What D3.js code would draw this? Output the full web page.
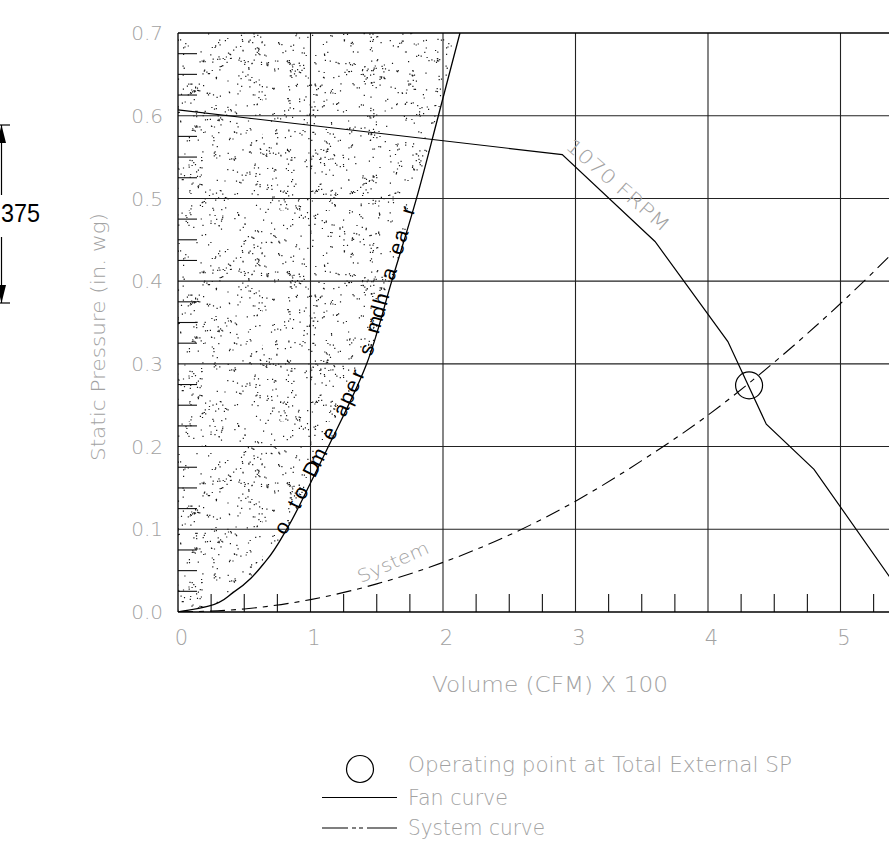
<!DOCTYPE html>
<html><head><meta charset="utf-8">
<script src="https://cdn.jsdelivr.net/npm/d3@7"></script>
<style>
html,body{margin:0;padding:0;background:#fff;}
svg{display:block;}
.lbl{font-family:"DejaVu Sans",sans-serif;font-weight:200;fill:#a2a2a2;}
</style></head>
<body>
<svg id="chart" width="889" height="865"></svg>
<script>
// ---------------- data ----------------
const xTicks = [0, 1, 2, 3, 4, 5];
const yTicks = [0.0, 0.1, 0.2, 0.3, 0.4, 0.5, 0.6, 0.7];
const yTickLabels = ["0.0","0.1","0.2","0.3","0.4","0.5","0.6","0.7"];
const xMinorTicks = [0.25,0.5,0.75,1.25,1.5,1.75,2.25,2.5,2.75,3.25,3.5,3.75,4.25,4.5,4.75,5.25,5.5,5.75];
const yMinorTicks = [0.025,0.05,0.075,0.125,0.15,0.175,0.225,0.25,0.275,0.325,0.35,0.375,0.425,0.45,0.475,0.525,0.55,0.575,0.625,0.65,0.675];

// Fan curve (1070 FRPM)
const fanX = [0, 2.9, 3.6, 4.15, 4.44, 4.8, 5.5];
const fanY = [0.607, 0.553, 0.448, 0.327, 0.227, 0.1725, 0.013];

// System curve
const sysX = [0, 0.5, 1, 1.5, 2, 2.5, 3, 3.5, 4, 4.5, 5, 5.5];
const sysY = [0, 0.0037, 0.015, 0.034, 0.06, 0.093, 0.134, 0.183, 0.238, 0.302, 0.373, 0.451];

// Boundary of the shaded (stippled) region
const bndX = [0, 0.23, 0.42, 0.67, 0.82, 1.0, 1.135, 1.424, 1.613, 1.8, 1.965, 2.128];
const bndY = [0, 0.007, 0.024, 0.063, 0.1, 0.156, 0.2, 0.3, 0.4, 0.5, 0.6, 0.7];

// Operating point
const opX = [4.31];
const opY = [0.274];

const curveLabel = "o to Dm e aper s mdh a ea r";
const fanLabel = "1070 FRPM";
const sysLabel = "System";
const xTitle = "Volume (CFM) X 100";
const yTitle = "Static Pressure (in. wg)";
const legendItems = ["Operating point at Total External SP", "Fan curve", "System curve"];
const dimText = "375";

// ---------------- drawing ----------------
const svg = d3.select("#chart");
const x = d3.scaleLinear().domain([0, 5]).range([178, 840.5]);
const y = d3.scaleLinear().domain([0, 0.7]).range([612, 33]);
const W = 889;

// stipple pattern (decorative texture)
const defs = svg.append("defs");
const PW = 263, PH = 211;
const pat = defs.append("pattern").attr("id","stip").attr("patternUnits","userSpaceOnUse")
  .attr("width",PW).attr("height",PH);
let s = 424242;
const rnd = () => { s = (s * 16807) % 2147483647; return s / 2147483647; };
let dots = "";
for (let i = 0; i < 720; i++) {
  const cx = rnd()*PW, cy = rnd()*PH;
  const n = 1 + Math.floor(rnd()*2.4);
  for (let k = 0; k < n; k++) {
    const dx = ((cx + (rnd()-0.5)*6) % PW + PW) % PW;
    const dy = ((cy + (rnd()-0.5)*4) % PH + PH) % PH;
    dots += `M${dx.toFixed(1)},${dy.toFixed(1)}h1.2v1.2h-1.2z`;
  }
}
pat.append("path").attr("d",dots).attr("fill","#1a1a1a");

const clip = defs.append("clipPath").attr("id","plotclip");
clip.append("rect").attr("x",178).attr("y",33).attr("width",W-178).attr("height",612-33);

const bnd = bndX.map((d,i)=>[d,bndY[i]]);
const bndLine = d3.line().x(d=>x(d[0])).y(d=>y(d[1])).curve(d3.curveMonotoneY);
// stippled region
svg.append("path")
  .attr("d", bndLine(bnd) + "L" + x(0) + "," + y(0.7) + "L" + x(0) + "," + y(0) + "Z")
  .attr("fill","url(#stip)").attr("stroke","none");

// grid
const g = svg.append("g").attr("clip-path","url(#plotclip)");
g.selectAll(".vg").data(xTicks.slice(1)).join("line")
  .attr("x1",d=>x(d)).attr("x2",d=>x(d)).attr("y1",y(0.7)).attr("y2",y(0))
  .attr("stroke","#222").attr("stroke-width",1.1);
g.selectAll(".hg").data(yTicks.slice(1,-1)).join("line")
  .attr("x1",x(0)).attr("x2",W).attr("y1",d=>y(d)).attr("y2",d=>y(d))
  .attr("stroke","#222").attr("stroke-width",1.1);
// minor ticks
g.selectAll(".xm").data(xMinorTicks).join("line")
  .attr("x1",d=>x(d)).attr("x2",d=>x(d)).attr("y1",y(0)).attr("y2",y(0)-18)
  .attr("stroke","#111").attr("stroke-width",1.1);
g.selectAll(".ym").data(yMinorTicks).join("line")
  .attr("x1",x(0)).attr("x2",x(0)+19).attr("y1",d=>y(d)).attr("y2",d=>y(d))
  .attr("stroke","#111").attr("stroke-width",1.1);

// frame
svg.append("line").attr("x1",x(0)).attr("x2",W).attr("y1",y(0.7)).attr("y2",y(0.7)).attr("stroke","#000").attr("stroke-width",1.3);
svg.append("line").attr("x1",x(0)).attr("x2",W).attr("y1",y(0)).attr("y2",y(0)).attr("stroke","#000").attr("stroke-width",1.3);
svg.append("line").attr("x1",x(0)).attr("x2",x(0)).attr("y1",y(0.7)).attr("y2",y(0)).attr("stroke","#000").attr("stroke-width",1.3);

// boundary curve
const bPath = g.append("path").attr("d", bndLine(bnd)).attr("fill","none").attr("stroke","#000").attr("stroke-width",1.3);

// system curve
const sysLine = d3.line().x((d,i)=>x(sysX[i])).y((d,i)=>y(sysY[i])).curve(d3.curveMonotoneX);
g.append("path").attr("d", sysLine(sysX)).attr("fill","none").attr("stroke","#000")
  .attr("stroke-width",1.1).attr("stroke-dasharray","15,6,5,6");

// fan curve
const fanLine = d3.line().x((d,i)=>x(fanX[i])).y((d,i)=>y(fanY[i]));
g.append("path").attr("d", fanLine(fanX)).attr("fill","none").attr("stroke","#000").attr("stroke-width",1.2);

// operating point
svg.selectAll(".op").data(opX).join("circle")
  .attr("cx",(d)=>x(d)).attr("cy",(d,i)=>y(opY[i])).attr("r",13.5)
  .attr("fill","none").attr("stroke","#000").attr("stroke-width",1.2);

// tick labels
svg.selectAll(".yl").data(yTicks).join("text").attr("class","lbl")
  .attr("x",163).attr("y",d=>y(d)).attr("dy","0.36em").attr("text-anchor","end")
  .attr("font-size",20).text((d,i)=>yTickLabels[i]);
svg.selectAll(".xl").data(xTicks).join("text").attr("class","lbl")
  .attr("x",d=>x(d)+3.5).attr("y",645).attr("text-anchor","middle")
  .attr("font-size",21).text(d=>d);

// axis titles
svg.append("text").attr("class","lbl").attr("x",432).attr("y",691.5).attr("font-size",21)
  .attr("textLength",236).attr("lengthAdjust","spacingAndGlyphs").text(xTitle);
svg.append("text").attr("class","lbl").attr("transform","translate(98,337) rotate(-90)")
  .attr("text-anchor","middle").attr("font-size",19).attr("dy","0.35em")
  .attr("textLength",248).attr("lengthAdjust","spacingAndGlyphs").text(yTitle);

// curve labels
svg.append("text").attr("class","lbl").attr("transform","translate(618,185) rotate(41)")
  .attr("text-anchor","middle").attr("dy","0.35em").attr("font-size",19)
  .attr("textLength",130).attr("lengthAdjust","spacingAndGlyphs").text(fanLabel);
svg.append("text").attr("class","lbl").attr("transform","translate(393,562) rotate(-24)")
  .attr("text-anchor","middle").attr("dy","0.35em").attr("font-size",18)
  .attr("textLength",76).attr("lengthAdjust","spacingAndGlyphs").text(sysLabel);

// text along boundary curve
(function(){
  const node = bPath.node();
  const L = node.getTotalLength();
  const findLen = (py) => { for (let l = 0; l <= L; l += 0.5) { if (node.getPointAtLength(l).y <= py) return l; } return L; };
  const l0 = findLen(530), l1 = findLen(212);
  const chars = curveLabel.split("");
  const step = (l1 - l0) / (chars.length - 1);
  chars.forEach((c,i) => {
    if (c === " ") return;
    const l = l0 + i*step;
    const p = node.getPointAtLength(l), q = node.getPointAtLength(Math.min(L, l+1));
    const ang = Math.atan2(q.y-p.y, q.x-p.x) * 180/Math.PI;
    svg.append("text").attr("transform",`translate(${p.x},${p.y}) rotate(${ang})`)
      .attr("text-anchor","middle").attr("dy",2).attr("font-family","Liberation Sans, Arial, sans-serif")
      .attr("font-size",21).attr("fill","#000").text(c);
  });
})();

// legend
const lg = svg.append("g");
lg.append("circle").attr("cx",360).attr("cy",769).attr("r",13.5).attr("fill","none").attr("stroke","#000").attr("stroke-width",1.2);
lg.append("line").attr("x1",322).attr("x2",397).attr("y1",797.5).attr("y2",797.5).attr("stroke","#000").attr("stroke-width",1.2);
lg.append("line").attr("x1",322).attr("x2",397).attr("y1",828).attr("y2",828).attr("stroke","#000").attr("stroke-width",1.2)
  .attr("stroke-dasharray","26,4,4,3,4,4,40");
const legY = [772, 804.5, 835];
const legW = [384, 100, 137];
lg.selectAll(".lt").data(legendItems).join("text").attr("class","lbl")
  .attr("x",408).attr("y",(d,i)=>legY[i]).attr("font-size",21)
  .attr("textLength",(d,i)=>legW[i]).attr("lengthAdjust","spacingAndGlyphs").text(d=>d);

// dimension "375"
const dim = svg.append("g");
dim.append("line").attr("x1",0).attr("x2",10).attr("y1",125).attr("y2",125).attr("stroke","#000").attr("stroke-width",1.2);
dim.append("line").attr("x1",0).attr("x2",10).attr("y1",303).attr("y2",303).attr("stroke","#000").attr("stroke-width",1.2);
dim.append("line").attr("x1",1.5).attr("x2",1.5).attr("y1",125).attr("y2",195).attr("stroke","#000").attr("stroke-width",1.2);
dim.append("line").attr("x1",1.5).attr("x2",1.5).attr("y1",237).attr("y2",303).attr("stroke","#000").attr("stroke-width",1.2);
dim.append("path").attr("d","M1.5,125L6,143L-3,143Z").attr("fill","#000");
dim.append("path").attr("d","M1.5,303L6,285L-3,285Z").attr("fill","#000");
dim.append("text").attr("x",1).attr("y",221.5)
  .attr("font-family","Liberation Sans, Arial, sans-serif").attr("font-size",26)
  .attr("textLength",39).attr("lengthAdjust","spacingAndGlyphs").attr("fill","#000").text(dimText);
</script>
</body></html>
